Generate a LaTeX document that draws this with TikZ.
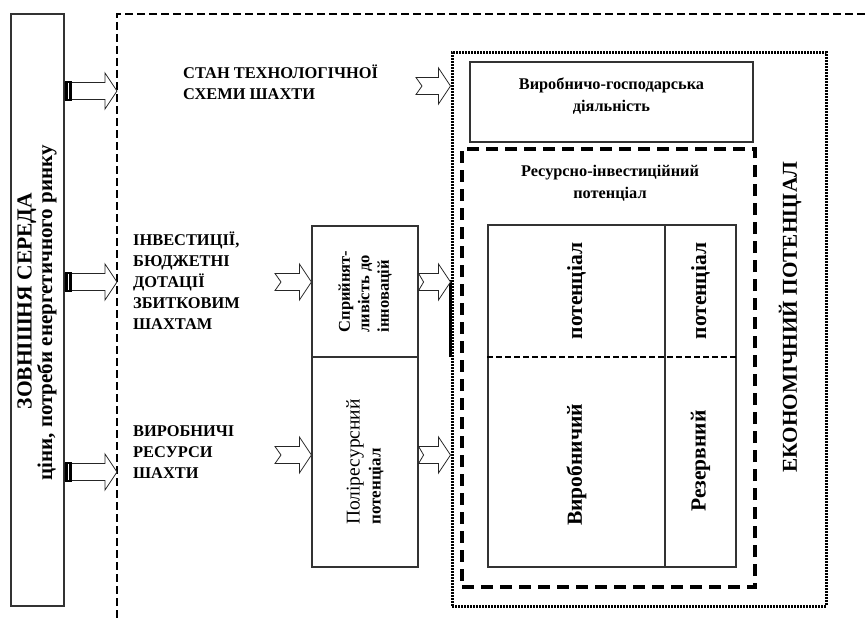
\documentclass[tikz,border=0pt]{standalone}
\usepackage{fontspec}
\setmainfont{Liberation Serif}
\usetikzlibrary{calc}

% block arrow: [notch depth]{tail}{tip}
\newcommand{\fatarrow}[3][0]{%
  \filldraw[fill=white, draw=black!85, line width=0.8pt]
    let \p1=#2, \p2=#3 in
    (\x1,\y1+8.5pt) -- (\x2-12pt,\y1+8.5pt) -- (\x2-12pt,\y1+18pt) -- (\x2,\y1)
    -- (\x2-12pt,\y1-18pt) -- (\x2-12pt,\y1-8.5pt) -- (\x1,\y1-8.5pt)
    -- (\x1+#1pt,\y1) -- cycle;}
% black band at an arrow tail
\newcommand{\tailband}[1]{%
  \fill[black] let \p1=#1 in (\x1,\y1-10pt) rectangle (\x1+7pt,\y1+10pt);
  \draw[white, line width=0.6pt] let \p1=#1 in (\x1+3.5pt,\y1-8pt) -- (\x1+3.5pt,\y1+8pt);}

\tikzset{
  box/.style={draw=black!80, line width=1.2pt, inner sep=0pt},
  frame/.style={line width=2.2pt, dash pattern=on 8pt off 4pt},
  ecoframe/.style={draw, line width=3pt, dash pattern=on 2pt off 1pt, inner sep=0pt},
  resframe/.style={draw, line width=3.2pt, dash pattern=on 12pt off 7pt, inner sep=0pt},
  griddash/.style={line width=1.6pt, dash pattern=on 6pt off 3pt},
  caps/.style={font=\bfseries\fontsize{16.4}{21}\selectfont, align=left, inner sep=0pt},
  small/.style={font=\bfseries\fontsize{16.3}{22}\selectfont, align=center, inner sep=0pt},
  cell/.style={font=\bfseries\fontsize{21.5}{24}\selectfont, rotate=90, inner sep=0pt}
}

\begin{document}
\begin{tikzpicture}[x=1pt, y=-1pt]
    \useasboundingbox (0,0) rectangle (865,621);

    % Outer frame (open to the right and below)
    \draw[frame] (865,14) -- (117,14) -- (117,621);
    \coordinate (fr) at (117,14);

    % External environment
    \node[box, minimum width=53pt, minimum height=592pt] (env) at (37.5,310) {};
    \node[rotate=90, align=center, font=\bfseries\fontsize{21}{20.5}\selectfont] (envtxt) at (37,313)
        {\hspace*{24pt}{\fontsize{21.5}{20.5}\selectfont ЗОВНІШНЯ СЕРЕДА}\\ціни, потреби енергетичного ринку};

    % Input texts
    \node[caps, anchor=west] (techst) at (183,82) {СТАН ТЕХНОЛОГІЧНОЇ\\СХЕМИ ШАХТИ};
    \node[caps, anchor=west] (invest) at (133,281) {ІНВЕСТИЦІЇ,\\БЮДЖЕТНІ\\ДОТАЦІЇ\\ЗБИТКОВИМ\\ШАХТАМ};
    \node[caps, anchor=west] (resrc) at (133,452) {ВИРОБНИЧІ\\РЕСУРСИ\\ШАХТИ};

    % Receptivity and poly-resource boxes
    \node[box, minimum width=106pt, minimum height=131pt] (recept) at (365,291.5) {};
    \node[box, minimum width=106pt, minimum height=210pt] (poly) at (365,462) {};
    \node[rotate=90, align=left, inner sep=0pt, font=\bfseries\fontsize{16.5}{19.5}\selectfont]
        (recepttxt) at (recept.center) {Сприйнят-\\ливість до\\інновацій};
    \node[rotate=90, align=left, inner sep=0pt, font=\bfseries\fontsize{17}{21}\selectfont]
        (polytxt) at (poly.center) {{\mdseries\fontsize{19.5}{21}\selectfont Поліресурсний}\\потенціал};

    % Economic potential
    \node[ecoframe, minimum width=374pt, minimum height=554pt] (econ) at (639,329) {};
    \draw[line width=2.5pt] (econ.west |- 0,280) -- (econ.west |- 0,357);
    \node[box, minimum width=283pt, minimum height=80pt] (act) at (611.5,102) {};
    \node[small] (acttxt) at (611.5,96) {Виробничо-господарська\\діяльність};
    \node[resframe, minimum width=293pt, minimum height=438pt] (res) at (608.5,368) {};
    \node[small] (restxt) at (610,183) {Ресурсно-інвестиційний\\потенціал};
    \node[box, minimum width=248pt, minimum height=342pt] (grid) at (612,396) {};
    \draw[box] (grid.north -| 665,0) -- (grid.south -| 665,0);
    \draw[griddash] (grid.west |- 0,357) -- (grid.east |- 0,357);
    \node[cell] (c1) at (576.5,291) {потенціал};
    \node[cell] (c2) at (700.5,291) {потенціал};
    \node[cell] (c3) at (576.5,465) {Виробничий};
    \node[cell] (c4) at (700.5,461) {Резервний};
    \node[rotate=90, inner sep=0pt, font=\bfseries\fontsize{21.2}{24}\selectfont] (ecotxt) at (790,317) {ЕКОНОМІЧНИЙ ПОТЕНЦІАЛ};

    % Arrows from the environment
    \fatarrow{(env.east |- 0,91)}{(fr |- 0,91)}
    \tailband{(env.east |- 0,91)}
    \fatarrow{(env.east |- 0,282)}{(fr |- 0,282)}
    \tailband{(env.east |- 0,282)}
    \fatarrow{(env.east |- 0,472)}{(fr |- 0,472)}
    \tailband{(env.east |- 0,472)}

    % Arrows inside the frame
    \coordinate (stantail) at (416,86);
    \coordinate (invtail) at (275,282);
    \coordinate (restail) at (275,455);
    \fatarrow[6]{(stantail)}{(econ.west |- stantail)}
    \fatarrow[6]{(invtail)}{(recept.west |- invtail)}
    \fatarrow[6]{(restail)}{(poly.west |- restail)}
    \fatarrow[5]{(recept.east |- 0,282)}{(econ.west |- 0,282)}
    \fatarrow[5]{(poly.east |- 0,455)}{(econ.west |- 0,455)}
\end{tikzpicture}
\end{document}
